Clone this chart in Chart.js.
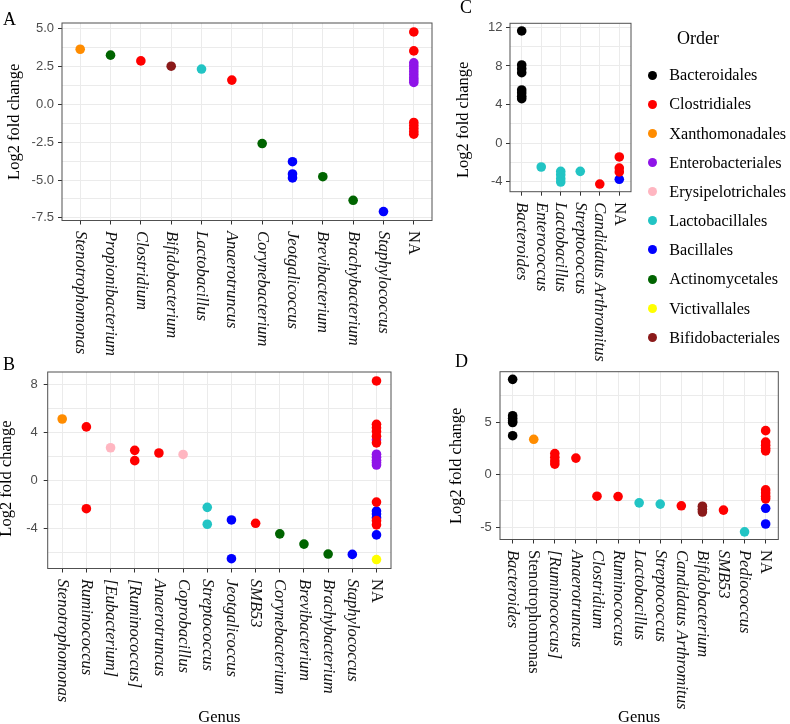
<!DOCTYPE html>
<html>
<head>
<meta charset="utf-8">
<title>Log2 fold change by genus</title>
<script src="https://cdn.jsdelivr.net/npm/chart.js@4.4.1/dist/chart.umd.min.js"></script>
<style>
  html, body { margin: 0; padding: 0; background: #fff; }
  #figure { position: relative; width: 790px; height: 724px; overflow: hidden; font-family: "Liberation Serif", "Times New Roman", serif; color: #000; }
  #figure canvas { position: absolute; left: 0; top: 0; }
  .panel-tag { position: absolute; font-size: 18px; line-height: 18px; }
  .legend-title { position: absolute; left: 677px; top: 29.4px; font-size: 18px; line-height: 18px; }
  .legend-item { position: absolute; left: 669.3px; font-size: 16.2px; line-height: 16.2px; white-space: nowrap; }
  .legend-dot { position: absolute; width: 9px; height: 9px; border-radius: 50%; }
</style>
</head>
<body>
<div id="figure">
  <canvas id="chartA" width="790" height="724"></canvas>
  <canvas id="chartB" width="790" height="724"></canvas>
  <canvas id="chartC" width="790" height="724"></canvas>
  <canvas id="chartD" width="790" height="724"></canvas>
  <div class="panel-tag" style="left:3px;top:10px">A</div>
  <div class="panel-tag" style="left:3px;top:355px">B</div>
  <div class="panel-tag" style="left:460px;top:-2px">C</div>
  <div class="panel-tag" style="left:455px;top:352px">D</div>
  <div class="legend-title">Order</div>
  <div id="legend"></div>
</div>
<script>
// orders (legend) and their colours
const orders = ['Bacteroidales', 'Clostridiales', 'Xanthomonadales', 'Enterobacteriales', 'Erysipelotrichales',
  'Lactobacillales', 'Bacillales', 'Actinomycetales', 'Victivallales', 'Bifidobacteriales'];
const orderColors = ['#000000', '#FF0000', '#FF8C00', '#8F14E8', '#FFB6C1',
  '#22C4C4', '#0000FF', '#006400', '#FFFF00', '#8B1A1A'];

// panel A
const genusA = ['Stenotrophomonas', 'Propionibacterium', 'Clostridium', 'Bifidobacterium', 'Lactobacillus', 'Anaerotruncus',
  'Corynebacterium', 'Jeotgalicoccus', 'Brevibacterium', 'Brachybacterium', 'Staphylococcus', 'NA'];
const pointsA = [
  ['Stenotrophomonas', 'Xanthomonadales', 3.64],
  ['Propionibacterium', 'Actinomycetales', 3.25],
  ['Clostridium', 'Clostridiales', 2.87],
  ['Bifidobacterium', 'Bifidobacteriales', 2.52],
  ['Lactobacillus', 'Lactobacillales', 2.33],
  ['Anaerotruncus', 'Clostridiales', 1.60],
  ['Corynebacterium', 'Actinomycetales', -2.59],
  ['Jeotgalicoccus', 'Bacillales', -3.79],
  ['Jeotgalicoccus', 'Bacillales', -4.60],
  ['Jeotgalicoccus', 'Bacillales', -4.86],
  ['Brevibacterium', 'Actinomycetales', -4.78],
  ['Brachybacterium', 'Actinomycetales', -6.34],
  ['Staphylococcus', 'Bacillales', -7.08],
  ['NA', 'Clostridiales', 4.78],
  ['NA', 'Clostridiales', 3.53],
  ['NA', 'Clostridiales', -1.20],
  ['NA', 'Clostridiales', -1.40],
  ['NA', 'Clostridiales', -1.60],
  ['NA', 'Clostridiales', -1.80],
  ['NA', 'Clostridiales', -1.97],
  ['NA', 'Enterobacteriales', 2.74],
  ['NA', 'Enterobacteriales', 2.55],
  ['NA', 'Enterobacteriales', 2.35],
  ['NA', 'Enterobacteriales', 2.15],
  ['NA', 'Enterobacteriales', 1.95],
  ['NA', 'Enterobacteriales', 1.75],
  ['NA', 'Enterobacteriales', 1.60],
  ['NA', 'Enterobacteriales', 1.45]
];
const yTickLabelsA = ['-7.5', '-5.0', '-2.5', '0.0', '2.5', '5.0'];

// panel B
const genusB = ['Stenotrophomonas', 'Ruminococcus', '[Eubacterium]', '[Ruminococcus]', 'Anaerotruncus', 'Coprobacillus',
  'Streptococcus', 'Jeotgalicoccus', 'SMB53', 'Corynebacterium', 'Brevibacterium', 'Brachybacterium', 'Staphylococcus', 'NA'];
const pointsB = [
  ['Stenotrophomonas', 'Xanthomonadales', 5.14],
  ['Ruminococcus', 'Clostridiales', 4.48],
  ['Ruminococcus', 'Clostridiales', -2.35],
  ['[Eubacterium]', 'Erysipelotrichales', 2.74],
  ['[Ruminococcus]', 'Clostridiales', 2.52],
  ['[Ruminococcus]', 'Clostridiales', 1.66],
  ['Anaerotruncus', 'Clostridiales', 2.30],
  ['Coprobacillus', 'Erysipelotrichales', 2.18],
  ['Streptococcus', 'Lactobacillales', -2.24],
  ['Streptococcus', 'Lactobacillales', -3.65],
  ['Jeotgalicoccus', 'Bacillales', -3.29],
  ['Jeotgalicoccus', 'Bacillales', -6.53],
  ['SMB53', 'Clostridiales', -3.57],
  ['Corynebacterium', 'Actinomycetales', -4.45],
  ['Brevibacterium', 'Actinomycetales', -5.31],
  ['Brachybacterium', 'Actinomycetales', -6.14],
  ['Staphylococcus', 'Bacillales', -6.17],
  ['NA', 'Clostridiales', 8.32],
  ['NA', 'Clostridiales', 4.70],
  ['NA', 'Clostridiales', 4.40],
  ['NA', 'Clostridiales', 4.10],
  ['NA', 'Clostridiales', 3.70],
  ['NA', 'Clostridiales', 3.15],
  ['NA', 'Clostridiales', -1.80],
  ['NA', 'Clostridiales', -3.35],
  ['NA', 'Clostridiales', -3.70],
  ['NA', 'Enterobacteriales', 3.40],
  ['NA', 'Enterobacteriales', 2.20],
  ['NA', 'Enterobacteriales', 1.95],
  ['NA', 'Enterobacteriales', 1.70],
  ['NA', 'Enterobacteriales', 1.50],
  ['NA', 'Enterobacteriales', 1.30],
  ['NA', 'Bacillales', -2.55],
  ['NA', 'Bacillales', -2.80],
  ['NA', 'Bacillales', -3.10],
  ['NA', 'Bacillales', -4.54],
  ['NA', 'Victivallales', -6.60]
];
const yTickLabelsB = ['-4', '0', '4', '8'];

// panel C
const genusC = ['Bacteroides', 'Enterococcus', 'Lactobacillus', 'Streptococcus', 'Candidatus Arthromitus', 'NA'];
const pointsC = [
  ['Bacteroides', 'Bacteroidales', 11.63],
  ['Bacteroides', 'Bacteroidales', 8.10],
  ['Bacteroides', 'Bacteroidales', 7.70],
  ['Bacteroides', 'Bacteroidales', 7.30],
  ['Bacteroides', 'Bacteroidales', 5.50],
  ['Bacteroides', 'Bacteroidales', 5.20],
  ['Bacteroides', 'Bacteroidales', 4.85],
  ['Bacteroides', 'Bacteroidales', 4.60],
  ['Enterococcus', 'Lactobacillales', -2.49],
  ['Lactobacillus', 'Lactobacillales', -2.95],
  ['Lactobacillus', 'Lactobacillales', -3.30],
  ['Lactobacillus', 'Lactobacillales', -3.70],
  ['Lactobacillus', 'Lactobacillales', -4.05],
  ['Streptococcus', 'Lactobacillales', -2.94],
  ['Candidatus Arthromitus', 'Clostridiales', -4.26],
  ['NA', 'Clostridiales', -1.45],
  ['NA', 'Clostridiales', -2.60],
  ['NA', 'Clostridiales', -3.00],
  ['NA', 'Bacillales', -3.77]
];
const yTickLabelsC = ['-4', '0', '4', '8', '12'];

// panel D
const genusD = ['Bacteroides', 'Stenotrophomonas', '[Ruminococcus]', 'Anaerotruncus', 'Clostridium', 'Ruminococcus',
  'Lactobacillus', 'Streptococcus', 'Candidatus Arthromitus', 'Bifidobacterium', 'SMB53', 'Pediococcus', 'NA'];
const pointsD = [
  ['Bacteroides', 'Bacteroidales', 9.06],
  ['Bacteroides', 'Bacteroidales', 5.60],
  ['Bacteroides', 'Bacteroidales', 5.35],
  ['Bacteroides', 'Bacteroidales', 5.10],
  ['Bacteroides', 'Bacteroidales', 4.95],
  ['Bacteroides', 'Bacteroidales', 3.70],
  ['Stenotrophomonas', 'Xanthomonadales', 3.36],
  ['[Ruminococcus]', 'Clostridiales', 2.00],
  ['[Ruminococcus]', 'Clostridiales', 1.65],
  ['[Ruminococcus]', 'Clostridiales', 1.30],
  ['[Ruminococcus]', 'Clostridiales', 1.00],
  ['Anaerotruncus', 'Clostridiales', 1.57],
  ['Clostridium', 'Clostridiales', -2.05],
  ['Ruminococcus', 'Clostridiales', -2.08],
  ['Lactobacillus', 'Lactobacillales', -2.68],
  ['Streptococcus', 'Lactobacillales', -2.80],
  ['Candidatus Arthromitus', 'Clostridiales', -2.96],
  ['Bifidobacterium', 'Bifidobacteriales', -3.00],
  ['Bifidobacterium', 'Bifidobacteriales', -3.30],
  ['Bifidobacterium', 'Bifidobacteriales', -3.55],
  ['SMB53', 'Clostridiales', -3.37],
  ['Pediococcus', 'Lactobacillales', -5.44],
  ['NA', 'Clostridiales', 4.18],
  ['NA', 'Clostridiales', 3.10],
  ['NA', 'Clostridiales', 2.80],
  ['NA', 'Clostridiales', 2.50],
  ['NA', 'Clostridiales', 2.26],
  ['NA', 'Clostridiales', -1.45],
  ['NA', 'Clostridiales', -1.75],
  ['NA', 'Clostridiales', -2.05],
  ['NA', 'Clostridiales', -2.30],
  ['NA', 'Bacillales', -3.20],
  ['NA', 'Bacillales', -4.69]
];
const yTickLabelsD = ['-5', '0', '5'];

const W = 790, H = 724;
const serif = '"Liberation Serif", "Times New Roman", serif';

// genus names under the x axis, rotated to read top-to-bottom
const genusLabels = {
  id: 'genusLabels',
  afterDraw(chart, args, opts) {
    const { ctx, chartArea, scales: { x } } = chart;
    ctx.save();
    ctx.fillStyle = '#111';
    ctx.textAlign = 'left';
    ctx.textBaseline = 'middle';
    opts.labels.forEach((name, i) => {
      const upright = opts.upright.includes(name);
      ctx.font = (upright ? '' : 'italic ') + '16.5px ' + serif;
      ctx.save();
      ctx.translate(x.getPixelForValue(i), chartArea.bottom + 10.5);
      ctx.rotate(Math.PI / 2);
      ctx.fillText(name, 0, 0);
      ctx.restore();
    });
    ctx.restore();
  }
};

// panel border
const panelFrame = {
  id: 'panelFrame',
  afterDraw(chart) {
    const { ctx, chartArea: a } = chart;
    ctx.save();
    ctx.strokeStyle = '#505050';
    ctx.lineWidth = 1;
    ctx.strokeRect(a.left, a.top, a.right - a.left, a.bottom - a.top);
    ctx.restore();
  }
};

function makePanel(id, genus, points, tickLabels, box, opt) {
  const ys = points.map(p => p[2]);
  const lo = Math.min(...ys), hi = Math.max(...ys);
  const pad = (hi - lo) * 0.05;
  const yMin = lo - pad, yMax = hi + pad;

  const majors = tickLabels.map(Number);
  const step = majors[1] - majors[0];
  const minors = [majors[0] - step / 2, ...majors.map(v => v + step / 2)]
    .filter(v => v > yMin && v < yMax);
  const isMajor = v => majors.some(m => Math.abs(m - v) < 1e-9);

  const datasets = orders.map((order, k) => ({
    label: order,
    data: points.filter(p => p[1] === order).map(p => ({ x: genus.indexOf(p[0]), y: p[2] })),
    backgroundColor: orderColors[k],
    pointRadius: 4.8,
    pointHoverRadius: 4.8,
    borderWidth: 0
  })).filter(d => d.data.length);

  return new Chart(document.getElementById(id), {
    type: 'scatter',
    data: { datasets },
    options: {
      responsive: false,
      animation: false,
      events: [],
      layout: { padding: { left: 0, top: box.top, right: W - box.right, bottom: 0 } },
      plugins: {
        legend: { display: false },
        tooltip: { enabled: false },
        genusLabels: { labels: genus, upright: opt.upright }
      },
      scales: {
        x: {
          type: 'linear',
          min: -0.6,
          max: genus.length - 0.4,
          afterBuildTicks: s => { s.ticks = genus.map((g, i) => ({ value: i })); },
          afterFit: s => { s.height = H - box.bottom; },
          ticks: { display: false },
          grid: { color: '#EBEBEB', lineWidth: 1, drawTicks: true, tickLength: 4, tickColor: '#333' },
          border: { display: false },
          title: {
            display: opt.xTitle,
            text: 'Genus',
            color: '#000',
            font: { family: serif, size: 16.5, lineHeight: 1 },
            padding: { top: 0, bottom: -1.75 }
          }
        },
        y: {
          type: 'linear',
          min: yMin,
          max: yMax,
          afterBuildTicks: s => {
            s.ticks = [...majors, ...minors].sort((a, b) => a - b).map(v => ({ value: v }));
          },
          afterFit: s => { s.width = box.left; },
          ticks: {
            autoSkip: false,
            padding: opt.tickPad,
            color: '#4D4D4D',
            font: { family: '"Liberation Sans", Arial, sans-serif', size: 13 },
            callback: v => {
              const i = majors.findIndex(m => Math.abs(m - v) < 1e-9);
              return i < 0 ? '' : tickLabels[i];
            }
          },
          grid: {
            color: '#EBEBEB',
            lineWidth: 1,
            drawTicks: true,
            tickLength: 4,
            tickColor: c => isMajor(c.tick.value) ? '#333' : 'rgba(0,0,0,0)'
          },
          border: { display: false },
          title: {
            display: true,
            text: 'Log2 fold change' + ' '.repeat(opt.titleShift),
            color: '#000',
            font: { family: serif, size: 16.5, lineHeight: 1 },
            padding: { top: opt.titleX - 8.25, bottom: 0 }
          }
        }
      }
    },
    plugins: [genusLabels, panelFrame]
  });
}

makePanel('chartA', genusA, pointsA, yTickLabelsA,
  { left: 62, top: 23, right: 432, bottom: 220.5 },
  { upright: ['NA'], xTitle: false, tickPad: 4, titleX: 14.8, titleShift: 0 });
makePanel('chartB', genusB, pointsB, yTickLabelsB,
  { left: 47.7, top: 372, right: 391, bottom: 568.5 },
  { upright: ['NA'], xTitle: true, tickPad: 6, titleX: 6.5, titleShift: 4 });
makePanel('chartC', genusC, pointsC, yTickLabelsC,
  { left: 510, top: 23.3, right: 631, bottom: 191.7 },
  { upright: ['NA'], xTitle: false, tickPad: 3.5, titleX: 464.1, titleShift: 6 });
makePanel('chartD', genusD, pointsD, yTickLabelsD,
  { left: 500, top: 371.7, right: 778.3, bottom: 539.5 },
  { upright: ['Stenotrophomonas', 'NA'], xTitle: true, tickPad: 4.3, titleX: 456.5, titleShift: 5 });

// legend for the Order colours
const legend = document.getElementById('legend');
orders.forEach((order, i) => {
  const cy = 75 + 29.15 * i;
  const dot = document.createElement('div');
  dot.className = 'legend-dot';
  dot.style.left = (652.7 - 4.5) + 'px';
  dot.style.top = (cy - 4.5) + 'px';
  dot.style.background = orderColors[i];
  legend.appendChild(dot);
  const item = document.createElement('div');
  item.className = 'legend-item';
  item.style.top = (cy + 6 - 13.7) + 'px';
  item.textContent = order;
  legend.appendChild(item);
});
</script>
</body>
</html>
